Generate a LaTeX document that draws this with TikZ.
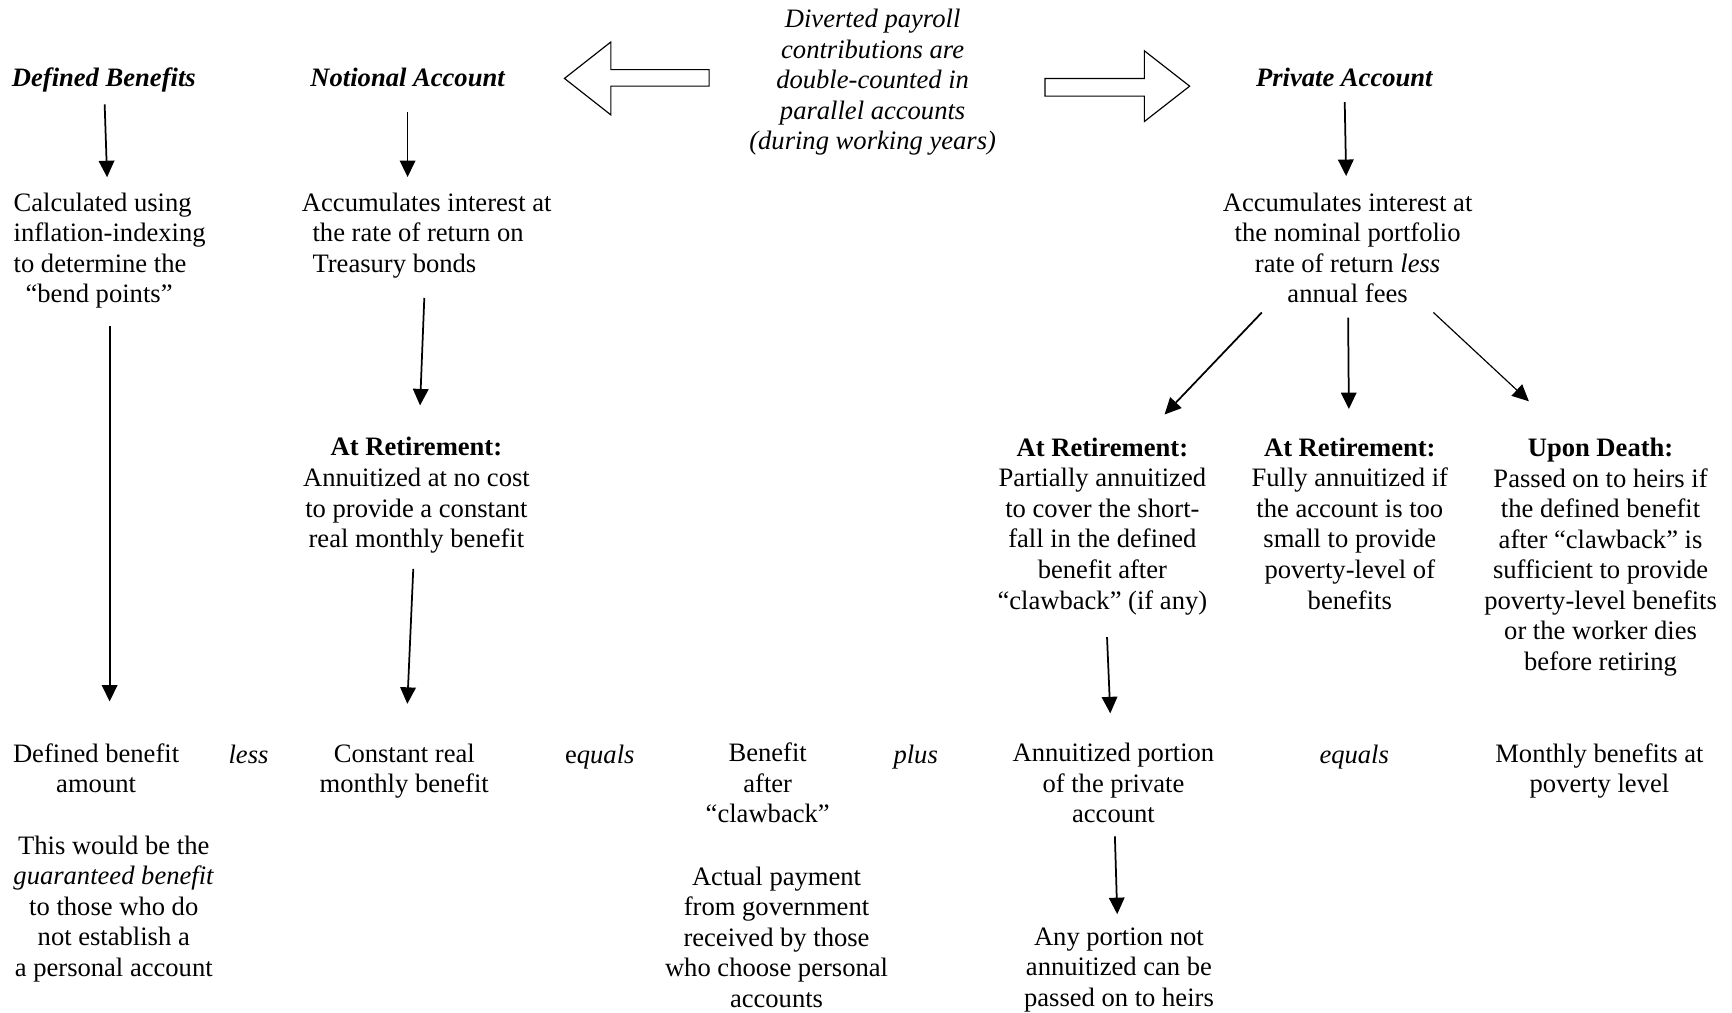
\documentclass[tikz,border=0pt]{standalone}
\usepackage{fontspec}
\setmainfont{Liberation Serif}
\usetikzlibrary{arrows.meta}

\begin{document}
\begin{tikzpicture}[x=0.02cm,y=-0.02cm,
  txt/.style={inner sep=0pt,font=\fontsize{13.7}{15.75}\selectfont,align=center,
    execute at begin node=\strut,execute at end node=\strut},
  head/.style={txt,font=\fontsize{13.7}{15.75}\selectfont\bfseries\itshape},
  arr/.style={-{Triangle[width=8pt,length=8.5pt]},line width=0.9pt,shorten <=8pt,shorten >=9pt},
  block/.style={draw,line width=0.6pt}]
\useasboundingbox (0,-2) rectangle (1568,915);

\node[head] (dbhead) at (94,70.5) {Defined Benefits};
\node[head] (nahead) at (369,70.5) {Notional Account};
\node[head] (pahead) at (1217,70.5) {Private Account};
\node[txt,font=\fontsize{13.7}{15.75}\selectfont\itshape] (divert) at (790,74) {Diverted payroll\\contributions are\\double-counted in\\parallel accounts\\(during working years)};

\draw[block] (642,61) -- (553,61) -- (553,36) -- (511,69) -- (553,102) -- (553,76) -- (642,76) -- cycle;
\draw[block] (946,69) -- (1036,69) -- (1036,44) -- (1077,76) -- (1036,108) -- (1036,85) -- (946,85) -- cycle;

\node[txt,align=left,anchor=west] (dbcalc) at (12,226.5) {Calculated using\\inflation-indexing\\to determine the\\\hspace*{0.45em}“bend points”};
\node[txt,align=left,anchor=west] (nacc) at (273,212.5) {Accumulates interest at\\\hspace*{0.4em}the rate of return on\\\hspace*{0.4em}Treasury bonds};
\node[txt] (nret) at (377,448) {\textbf{At Retirement:}\\Annuitized at no cost\\to provide a constant\\real monthly benefit};
\node[txt] (pacc) at (1220,226.5) {Accumulates interest at\\the nominal portfolio\\rate of return \textit{less}\\annual fees};
\node[txt] (ppart) at (998,476) {\textbf{At Retirement:}\\Partially annuitized\\to cover the short-\\fall in the defined\\benefit after\\“clawback” (if any)};
\node[txt] (pfull) at (1222,476) {\textbf{At Retirement:}\\Fully annuitized if\\the account is too\\small to provide\\poverty-level of\\benefits};
\node[txt] (pdeath) at (1449,504) {\textbf{Upon Death:}\\Passed on to heirs if\\the defined benefit\\after “clawback” is\\sufficient to provide\\poverty-level benefits\\or the worker dies\\before retiring};

\node[txt] (dbamt) at (87,697.5) {Defined benefit\\amount};
\node[txt] (less) at (225,683.5) {\textit{less}};
\node[txt] (constant) at (366,697.5) {Constant real\\monthly benefit};
\node[txt] (equalsA) at (543,683.5) {e\textit{quals}};
\node[txt] (clawback) at (695,711) {Benefit\\after\\“clawback”};
\node[txt] (plus) at (829,683.5) {\textit{plus}};
\node[txt] (annport) at (1008,711) {Annuitized portion\\of the private\\account};
\node[txt] (equalsB) at (1226,683.5) {\textit{equals}};
\node[txt] (poverty) at (1448,697.5) {Monthly benefits at\\poverty level};

\node[txt] (guarantee) at (103,822.5) {This would be the\\\textit{guaranteed benefit}\\to those who do\\not establish a\\a personal account};
\node[txt] (actual) at (703,850.5) {Actual payment\\from government\\received by those\\who choose personal\\accounts};
\node[txt] (anyportion) at (1013,877.5) {Any portion not\\annuitized can be\\passed on to heirs};

\draw[arr,shorten <=4.4pt,shorten >=7.8pt] (dbhead) -- (dbcalc);
\draw[arr,shorten <=8.4pt,shorten >=7.8pt] (nahead) -- (nahead |- nacc.north);
\draw[arr,shorten <=8.4pt,shorten >=16.3pt] (nacc) -- (nret);
\draw[arr,shorten <=6.1pt,shorten >=20.3pt] (nret) -- (constant);
\draw[arr,shorten <=7.2pt,shorten >=21.4pt] (dbcalc.south) -- (dbcalc.south |- dbamt.north);
\draw[arr,shorten <=3.3pt,shorten >=8.4pt] (pahead) -- (pacc);
\draw[arr,shorten <=0pt,shorten >=16.3pt] (pacc.-145) -- (ppart.66);
\draw[arr,shorten <=2.7pt,shorten >=14.6pt] (pacc) -- (pfull);
\draw[arr,line width=0.6pt,shorten <=0pt,shorten >=27.6pt] (pacc.-35) -- (pdeath.105);
\draw[arr,shorten <=9.5pt,shorten >=15.2pt] (ppart) -- (annport);
\draw[arr,shorten <=2.1pt,shorten >=6.7pt] (annport) -- (anyportion);
\end{tikzpicture}
\end{document}
